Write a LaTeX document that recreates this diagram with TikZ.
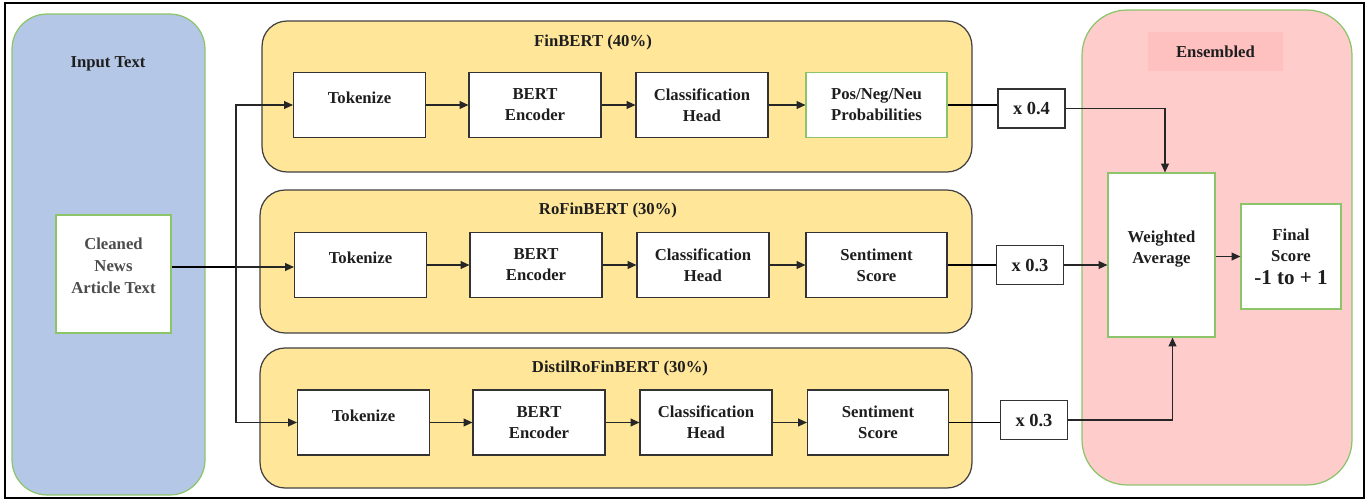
\documentclass[tikz,border=0pt]{standalone}
\usepackage{fontspec}
\setmainfont{Liberation Serif}
\usetikzlibrary{arrows.meta}

\definecolor{panelYellow}{HTML}{FFE699}
\definecolor{panelBlue}{HTML}{B4C7E7}
\definecolor{panelPink}{HTML}{FFCCCC}
\definecolor{tagPink}{HTML}{FFC0C0}
\definecolor{edgeGreen}{HTML}{8CC46A}
\definecolor{inkGrey}{HTML}{1E1E1E}

\tikzset{
    every node/.style={font=\bfseries\fontsize{9.5}{12}\selectfont, text=inkGrey},
    panel/.style={draw=black!75, line width=.7pt, fill=panelYellow, rounded corners=.5cm},
    block/.style={draw=black!80, line width=.7pt, fill=white, align=center,
        minimum width=2.64cm, minimum height=1.3cm, inner sep=1pt},
    greenblock/.style={block, draw=edgeGreen},
    weight/.style={draw=black!80, line width=.7pt, fill=white, minimum width=1.34cm,
        minimum height=.78cm, font=\bfseries\fontsize{10.5}{12}\selectfont},
    flow/.style={-{Triangle[length=5pt,width=4.5pt]}, line width=.6pt, draw=black!85},
}

\begin{document}
\begin{tikzpicture}[x=.02cm, y=-.02cm]

    \useasboundingbox (0,0) rectangle (1369,500);
    \draw[line width=1pt] (5,3) rectangle (1364,498);

    % input side
    \node[panel, fill=panelBlue, draw=edgeGreen, rounded corners=.7cm,
        minimum width=3.86cm, minimum height=9.62cm] (inPanel) at (108.5,254.5) {};
    \node (inTitle) at (108,64) {Input Text};
    \node[greenblock, minimum width=2.3cm, minimum height=2.36cm, text=black!70,
        font=\bfseries\fontsize{9.5}{12.5}\selectfont, text depth=9.6pt]
        (clean) at (113.5,274) {Cleaned\\News\\Article Text};

    % the three models
    \node[panel, minimum width=14.2cm, minimum height=3.02cm] (finPanel) at (617,96.5) {};
    \node[panel, minimum width=14.24cm, minimum height=2.86cm] (roPanel) at (616,261.5) {};
    \node[panel, minimum width=14.24cm, minimum height=2.8cm] (disPanel) at (616,418) {};
    \node (finTitle) at (593,42) {FinBERT (40\%)};
    \node (roTitle) at (608,210) {RoFinBERT (30\%)};
    \node (disTitle) at (620,368) {DistilRoFinBERT (30\%)};

    \node[greenblock, minimum width=2.82cm] (out1) at (876.5,105) {Pos/Neg/Neu\\Probabilities};
    \node[block, minimum width=2.82cm] (out2) at (876.5,265) {Sentiment\\Score};
    \node[block, minimum width=2.82cm] (out3) at (878,422.5) {Sentiment\\Score};

    \node[weight] (w1) at (1031.5,108.5) {x 0.4};
    \node[weight] (w2) at (1030,265) {x 0.3};
    \node[weight] (w3) at (1034,420) {x 0.3};

    \foreach \r/\ry/\dx in {1/105/0, 2/265/1, 3/422.5/4} {
        \node[block, text depth=8pt] (tok\r) at (359.5+\dx,\ry) {Tokenize};
        \node[block] (enc\r) at (535+\dx,\ry) {BERT\\Encoder};
        \node[block] (cls\r) at (702+\dx,\ry) {Classification\\Head};
        \draw[flow] (tok\r) -- (enc\r);
        \draw[flow] (enc\r) -- (cls\r);
        \draw[flow] (cls\r) -- (out\r);
        \draw[line width=.6pt] (out\r.east) -- (out\r.east -| w\r.west);
    }

    % input fork
    \coordinate (fork) at (236,267);
    \draw[line width=1.1pt] (clean.east |- fork) -- (fork);
    \draw[flow] (fork) -- (tok2.west |- fork);
    \draw[flow] (fork) |- (tok1.west);
    \draw[flow] (fork) |- (tok3.west);

    % ensemble
    \node[panel, fill=panelPink, draw=edgeGreen, rounded corners=.9cm,
        minimum width=5.4cm, minimum height=9.5cm] (ensPanel) at (1217,247.5) {};
    \node[fill=tagPink, minimum width=2.7cm, minimum height=.78cm] (ensTag) at (1215.5,51.5) {Ensembled};
    \node[greenblock, minimum width=2.14cm, minimum height=3.28cm, text depth=8.5pt]
        (avg) at (1161.5,255) {Weighted\\Average};
    \node[greenblock, minimum width=2cm, minimum height=2.1cm] (final) at (1291,256.5)
        {Final\\Score\\[1pt]{\fontsize{12}{14}\selectfont -1 to + 1}};

    \draw[flow] (w1.east) -| ([xshift=.07cm]avg.north);
    \draw[flow] (w2.east) -- (w2.east -| avg.west);
    \draw[flow] (w3.east) -| ([xshift=.22cm]avg.south);
    \draw[flow] (avg.east |- final) -- (final.west);

\end{tikzpicture}
\end{document}
